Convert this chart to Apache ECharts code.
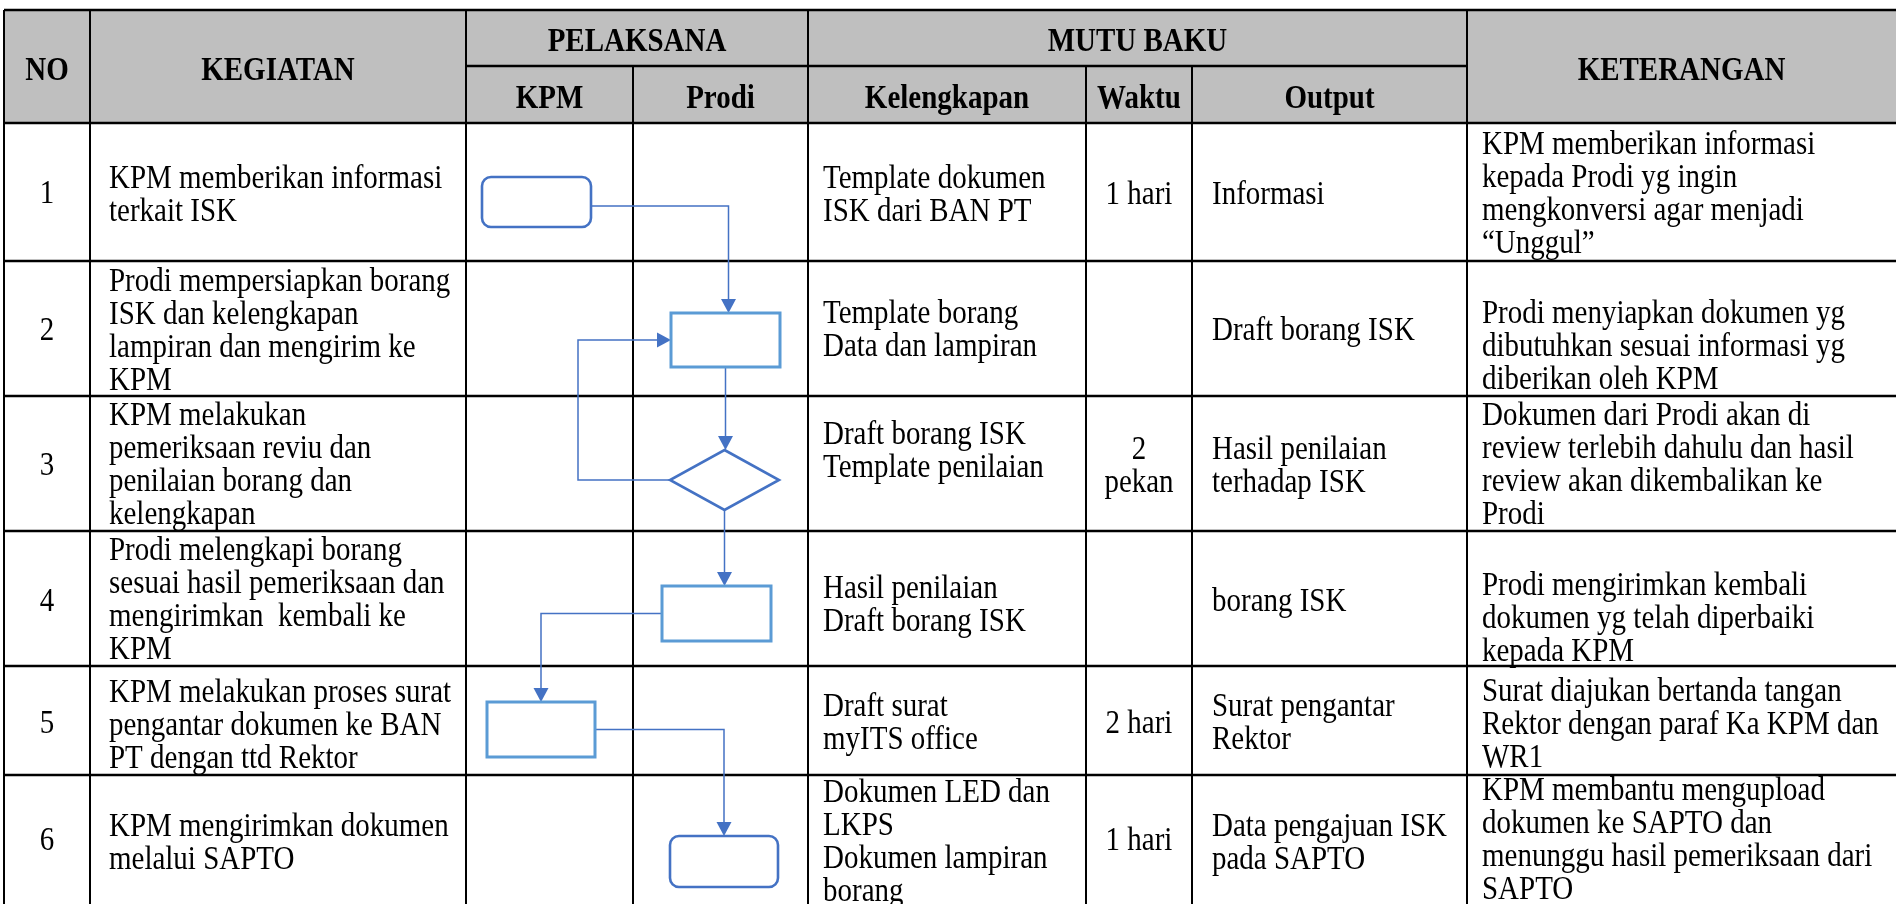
<!DOCTYPE html>
<html><head><meta charset="utf-8">
<script src="https://cdn.jsdelivr.net/npm/echarts@6/dist/echarts.min.js"></script>
<style>html,body{margin:0;padding:0;background:#fff;overflow:hidden}#chart{width:1896px;height:904px}</style>
</head><body><div id="chart"></div>
<script>
// ---------- DATA ----------
const headerTop = ['NO', 'KEGIATAN', 'PELAKSANA', 'MUTU BAKU', 'KETERANGAN'];
const headerSub = ['KPM', 'Prodi', 'Kelengkapan', 'Waktu', 'Output'];
const stepNo = ['1', '2', '3', '4', '5', '6'];
const kegiatan = [
  'KPM memberikan informasi\nterkait ISK',
  'Prodi mempersiapkan borang\nISK dan kelengkapan\nlampiran dan mengirim ke\nKPM',
  'KPM melakukan\npemeriksaan reviu dan\npenilaian borang dan\nkelengkapan',
  'Prodi melengkapi borang\nsesuai hasil pemeriksaan dan\nmengirimkan  kembali ke\nKPM',
  'KPM melakukan proses surat\npengantar dokumen ke BAN\nPT dengan ttd Rektor',
  'KPM mengirimkan dokumen\nmelalui SAPTO'
];
const kelengkapan = [
  'Template dokumen\nISK dari BAN PT',
  'Template borang\nData dan lampiran',
  'Draft borang ISK\nTemplate penilaian',
  'Hasil penilaian\nDraft borang ISK',
  'Draft surat\nmyITS office',
  'Dokumen LED dan\nLKPS\nDokumen lampiran\nborang'
];
const waktu = ['1 hari', '', '2\npekan', '', '2 hari', '1 hari'];
const outputs = [
  'Informasi',
  'Draft borang ISK',
  'Hasil penilaian\nterhadap ISK',
  'borang ISK',
  'Surat pengantar\nRektor',
  'Data pengajuan ISK\npada SAPTO'
];
const keterangan = [
  'KPM memberikan informasi\nkepada Prodi yg ingin\nmengkonversi agar menjadi\n\u201CUnggul\u201D',
  'Prodi menyiapkan dokumen yg\ndibutuhkan sesuai informasi yg\ndiberikan oleh KPM',
  'Dokumen dari Prodi akan di\nreview terlebih dahulu dan hasil\nreview akan dikembalikan ke\nProdi',
  'Prodi mengirimkan kembali\ndokumen yg telah diperbaiki\nkepada KPM',
  'Surat diajukan bertanda tangan\nRektor dengan paraf Ka KPM dan\nWR1',
  'KPM membantu mengupload\ndokumen ke SAPTO dan\nmenunggu hasil pemeriksaan dari\nSAPTO'
];
const flowLane = ['KPM', 'Prodi', 'Prodi', 'Prodi', 'KPM', 'Prodi'];
const flowShape = ['terminator', 'process', 'decision', 'process', 'process', 'terminator'];
const flowLinks = [[0, 1], [1, 2], [2, 1], [2, 3], [3, 4], [4, 5]];

// ---------- LAYOUT ----------
const W = 1896, H = 904;
const colX = [4, 90, 466, 633, 808, 1086, 1192, 1467, 1896];
const rowY = [10, 66, 123, 261, 396, 531, 666, 775, 904];
const LH = 33;
const FS = 34.5, SX = 0.84;
const FONT = '"Liberation Serif", "Times New Roman", serif';
const firstLine = {
  no:          [194, 331, 466, 602, 724, 841],
  kegiatan:    [179, 281.5, 416, 551, 692.5, 827],
  kelengkapan: [179, 314, 435, 589, 707, 793],
  waktu:       [194.5, 0, 450, 0, 724, 841],
  output:      [194.5, 331, 450, 602, 707, 827],
  keterangan:  [145, 314, 416, 586, 691.5, 791]
};
const textX = { no: 47, kegiatan: 109, kelengkapan: 823, waktu: 1139, output: 1212, keterangan: 1482 };
const nodeBox = [
  [482, 177, 591, 227],
  [671, 313, 780, 367],
  [670, 450, 779, 510],
  [662, 586, 771, 641],
  [487, 702, 595, 757],
  [670, 836, 778, 887]
];
const BLUE = '#4472C4', LBLUE = '#5B9BD5';

function P(api, x, y) { return api.coord([x, y]); }

function txt(api, text, x, yCenter, opts) {
  const p = P(api, x, yCenter - LH / 2);
  return {
    type: 'text',
    originX: p[0], originY: p[1], scaleX: SX, scaleY: 1,
    style: Object.assign({
      text: text, x: p[0], y: p[1],
      fill: '#000', font: FS + 'px ' + FONT,
      align: 'left', verticalAlign: 'top', lineHeight: LH
    }, opts || {})
  };
}

function renderTable(params, api) {
  const ch = [];
  const a = P(api, colX[0], rowY[0]), b = P(api, W, rowY[2]);
  ch.push({ type: 'rect', shape: { x: a[0], y: a[1], width: b[0] - a[0], height: b[1] - a[1] }, style: { fill: '#BFBFBF' } });
  const hl = [[rowY[0], colX[0], W], [rowY[1], colX[2], colX[7]]];
  for (let i = 2; i < rowY.length - 1; i++) hl.push([rowY[i], colX[0], W]);
  hl.forEach(h => {
    const p1 = P(api, h[1], h[0]), p2 = P(api, h[2], h[0]);
    ch.push({ type: 'line', shape: { x1: p1[0], y1: p1[1], x2: p2[0], y2: p2[1] }, style: { stroke: '#000', lineWidth: 2.6 } });
  });
  const vl = [[colX[0], rowY[0]], [colX[1], rowY[0]], [colX[2], rowY[0]], [colX[3], rowY[1]], [colX[4], rowY[0]], [colX[5], rowY[1]], [colX[6], rowY[1]], [colX[7], rowY[0]]];
  vl.forEach(v => {
    const p1 = P(api, v[0], v[1]), p2 = P(api, v[0], H);
    ch.push({ type: 'line', shape: { x1: p1[0], y1: p1[1], x2: p2[0], y2: p2[1] }, style: { stroke: '#000', lineWidth: 2 } });
  });
  const bold = { font: 'bold ' + FS + 'px ' + FONT, align: 'center' };
  const topPos = [[(colX[0] + colX[1]) / 2, 71], [(colX[1] + colX[2]) / 2, 71], [(colX[2] + colX[4]) / 2, 42], [(colX[4] + colX[7]) / 2, 42], [(colX[7] + W) / 2, 71]];
  headerTop.forEach((t, i) => ch.push(txt(api, t, topPos[i][0], topPos[i][1], bold)));
  const subPos = [(colX[2] + colX[3]) / 2, (colX[3] + colX[4]) / 2, (colX[4] + colX[5]) / 2, (colX[5] + colX[6]) / 2, (colX[6] + colX[7]) / 2];
  headerSub.forEach((t, i) => ch.push(txt(api, t, subPos[i], 99, bold)));
  return { type: 'group', children: ch };
}

function renderRow(params, api) {
  const i = params.dataIndex;
  const ch = [];
  ch.push(txt(api, stepNo[i], textX.no, firstLine.no[i], { align: 'center' }));
  ch.push(txt(api, kegiatan[i], textX.kegiatan, firstLine.kegiatan[i]));
  ch.push(txt(api, kelengkapan[i], textX.kelengkapan, firstLine.kelengkapan[i]));
  if (waktu[i]) ch.push(txt(api, waktu[i], textX.waktu, firstLine.waktu[i], { align: 'center' }));
  ch.push(txt(api, outputs[i], textX.output, firstLine.output[i]));
  ch.push(txt(api, keterangan[i], textX.keterangan, firstLine.keterangan[i]));
  return { type: 'group', children: ch };
}

function renderNode(params, api) {
  const i = params.dataIndex;
  const bx = nodeBox[i];
  const a = P(api, bx[0], bx[1]), b = P(api, bx[2], bx[3]);
  const s = flowShape[i];
  if (s === 'decision') {
    const cx = (a[0] + b[0]) / 2, cy = (a[1] + b[1]) / 2;
    return { type: 'polygon', shape: { points: [[cx, a[1]], [b[0], cy], [cx, b[1]], [a[0], cy]] }, style: { fill: '#fff', stroke: BLUE, lineWidth: 2.6 } };
  }
  return {
    type: 'rect',
    shape: { x: a[0], y: a[1], width: b[0] - a[0], height: b[1] - a[1], r: s === 'terminator' ? 9 : 0 },
    style: { fill: '#fff', stroke: s === 'terminator' ? BLUE : LBLUE, lineWidth: s === 'terminator' ? 2.6 : 3 }
  };
}

function linkPoints(f, t) {
  const A = nodeBox[f], B = nodeBox[t];
  const acx = (A[0] + A[2]) / 2, acy = (A[1] + A[3]) / 2;
  const bcx = (B[0] + B[2]) / 2, bcy = (B[1] + B[3]) / 2;
  if (t < f) {
    const lx = A[0] - 92;
    return [[A[0], acy], [lx, acy], [lx, bcy], [B[0], bcy]];
  }
  if (flowLane[f] === flowLane[t]) return [[acx, A[3]], [acx, B[1]]];
  const sx = bcx > acx ? A[2] : A[0];
  const ey = f === 0 ? acy + 4 : acy;
  return [[sx, ey], [bcx + (f === 0 ? 3 : 0), ey], [bcx + (f === 0 ? 3 : 0), B[1]]];
}

function renderLink(params, api) {
  const l = flowLinks[params.dataIndex];
  const pts = linkPoints(l[0], l[1]).map(p => P(api, p[0], p[1]));
  const n = pts.length;
  const end = pts[n - 1], prev = pts[n - 2];
  const dx = end[0] - prev[0], dy = end[1] - prev[1];
  const len = Math.sqrt(dx * dx + dy * dy);
  const ux = dx / len, uy = dy / len;
  const AL = 14, AW = 7.5;
  const base = [end[0] - ux * AL, end[1] - uy * AL];
  const linePts = pts.slice(0, n - 1).concat([base]);
  const tri = [end, [base[0] - uy * AW, base[1] + ux * AW], [base[0] + uy * AW, base[1] - ux * AW]];
  return {
    type: 'group', children: [
      { type: 'polyline', shape: { points: linePts }, style: { stroke: BLUE, lineWidth: 1.5, fill: null } },
      { type: 'polygon', shape: { points: tri }, style: { fill: BLUE } }
    ]
  };
}

const chart = echarts.init(document.getElementById('chart'), null, { renderer: 'canvas' });
chart.setOption({
  animation: false,
  backgroundColor: '#fff',
  grid: { left: 0, right: 0, top: 0, bottom: 0 },
  xAxis: { type: 'value', min: 0, max: W, show: false },
  yAxis: { type: 'value', min: 0, max: H, inverse: true, show: false },
  series: [
    { type: 'custom', name: 'table', z: 1, data: [[0]], renderItem: renderTable, silent: true },
    { type: 'custom', name: 'links', z: 2, data: flowLinks.map((l, i) => [i]), renderItem: renderLink, silent: true },
    { type: 'custom', name: 'nodes', z: 3, data: flowShape.map((s, i) => [i]), renderItem: renderNode, silent: true },
    { type: 'custom', name: 'rows', z: 4, data: stepNo.map((s, i) => [i]), renderItem: renderRow, silent: true }
  ]
});
</script></body></html>
